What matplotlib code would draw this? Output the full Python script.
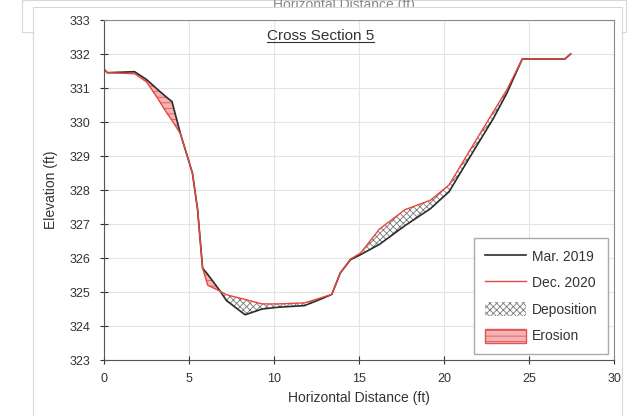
import matplotlib
matplotlib.use('Agg')
import matplotlib.pyplot as plt
from matplotlib.lines import Line2D
from matplotlib.patches import Patch, Rectangle

plt.rcParams['font.family'] = ['Liberation Sans', 'DejaVu Sans']
plt.rcParams['hatch.linewidth'] = 0.6

# survey stations (ft) and elevations (ft)
station = [0, 0.2, 1.8, 2.5, 3.1, 3.7, 4.0, 4.5, 5.2, 5.5, 5.8, 6.1, 6.8, 7.2, 8.3,
           9.3, 10.2, 11.8, 12.7, 13.4, 13.9, 14.5, 15.1, 16.2, 17.7, 19.2, 20.3,
           21.5, 22.9, 23.7, 24.6, 25.6, 27.1, 27.45]
mar_2019 = [331.55, 331.45, 331.48, 331.25, 330.98, 330.72, 330.6, 329.65, 328.5,
            327.45, 325.7, 325.52, 325.05, 324.75, 324.33, 324.5, 324.55, 324.6,
            324.78, 324.93, 325.56, 325.95, 326.1, 326.4, 326.95, 327.45, 327.95,
            328.95, 330.1, 330.85, 331.85, 331.85, 331.85, 332.0]
dec_2020 = [331.55, 331.45, 331.42, 331.18, 330.74, 330.26, 330.05, 329.65, 328.5,
            327.45, 325.7, 325.2, 325.03, 324.92, 324.78, 324.65, 324.65, 324.68,
            324.82, 324.93, 325.56, 325.97, 326.15, 326.85, 327.42, 327.7, 328.15,
            329.15, 330.3, 330.95, 331.85, 331.85, 331.85, 332.0]

W, H = 638, 416
fig = plt.figure(figsize=(W / 100, H / 100), dpi=100)

# leftover panel behind + main panel
fig.patches.append(Rectangle((22 / W, 1 - 32 / H), 604 / W, 32 / H, transform=fig.transFigure,
                             facecolor='white', edgecolor='#d8d8d8', lw=0.8, zorder=0))
fig.text(344 / W, 1 + 2 / H, 'Horizontal Distance (ft)', ha='center', va='top',
         fontsize=10, color='#888888', zorder=1)
fig.patches.append(Rectangle((33 / W, -0.01), 589 / W, 1 - 7 / H + 0.01, transform=fig.transFigure,
                             facecolor='white', edgecolor='#d8d8d8', lw=0.8, zorder=2))

ax = fig.add_axes([104 / W, 1 - 360 / H, 510 / W, 340 / H])
ax.set_zorder(3)

ax.fill_between(station, mar_2019, dec_2020, where=[d > m for m, d in zip(mar_2019, dec_2020)],
                interpolate=True, facecolor='white', edgecolor='#777777', hatch='xxxxx', lw=0)
ax.fill_between(station, mar_2019, dec_2020, where=[m > d for m, d in zip(mar_2019, dec_2020)],
                interpolate=True, facecolor='#f6b3b3', edgecolor='#e05555', hatch='---', lw=0)
ax.plot(station, mar_2019, color='#2b2b2b', lw=1.2)
ax.plot(station, dec_2020, color='#e8453c', lw=1.0)

ax.set_xlim(0, 30)
ax.set_ylim(323, 333)
ax.set_xticks(range(0, 31, 5))
ax.set_yticks(range(323, 334))
ax.grid(True, color='#e4e4e4', lw=0.8)
ax.set_axisbelow(True)
ax.tick_params(direction='inout', length=6, width=0.8, labelsize=9, colors='#333333')
ax.tick_params(axis='x', pad=6)
ax.tick_params(axis='y', pad=7)
for s in ['left', 'bottom']:
    ax.spines[s].set_color('#555555')
for s in ['top', 'right']:
    ax.spines[s].set_color('#8a8a8a')

ax.set_xlabel('Horizontal Distance (ft)', fontsize=10, color='#333333', labelpad=5)
ax.set_ylabel('Elevation (ft)', fontsize=10, color='#333333', labelpad=8)

title = ax.text(0.424, 0.952, 'Cross Section 5', transform=ax.transAxes, ha='center',
                va='center', fontsize=11, color='#333333')

handles = [Line2D([], [], color='#2b2b2b', lw=1.2),
           Line2D([], [], color='#e8453c', lw=1.0),
           Patch(facecolor='white', edgecolor='#777777', hatch='xxxxx', lw=0),
           Patch(facecolor='#f6b3b3', edgecolor='#e05555', hatch='---', lw=1.0)]
labels = ['Mar. 2019', 'Dec. 2020', 'Deposition', 'Erosion']
leg = ax.legend(handles, labels, loc='lower right', bbox_to_anchor=(0.988, 0.018), fontsize=10,
                fancybox=False, edgecolor='#aaaaaa', framealpha=1, handlelength=3.0,
                handleheight=1.2, labelspacing=0.85, borderpad=0.75, handletextpad=0.4,
                borderaxespad=0)
for t in leg.get_texts():
    t.set_color('#333333')

# underline the title
fig.canvas.draw()
bb = title.get_window_extent(fig.canvas.get_renderer())
x0, x1 = bb.x0 / W, bb.x1 / W
yb = (bb.y0 + 1) / H
fig.add_artist(Line2D([x0, x1], [yb, yb], transform=fig.transFigure, color='#333333',
                      lw=0.8, zorder=5))

fig.savefig('out.png', dpi=100)
